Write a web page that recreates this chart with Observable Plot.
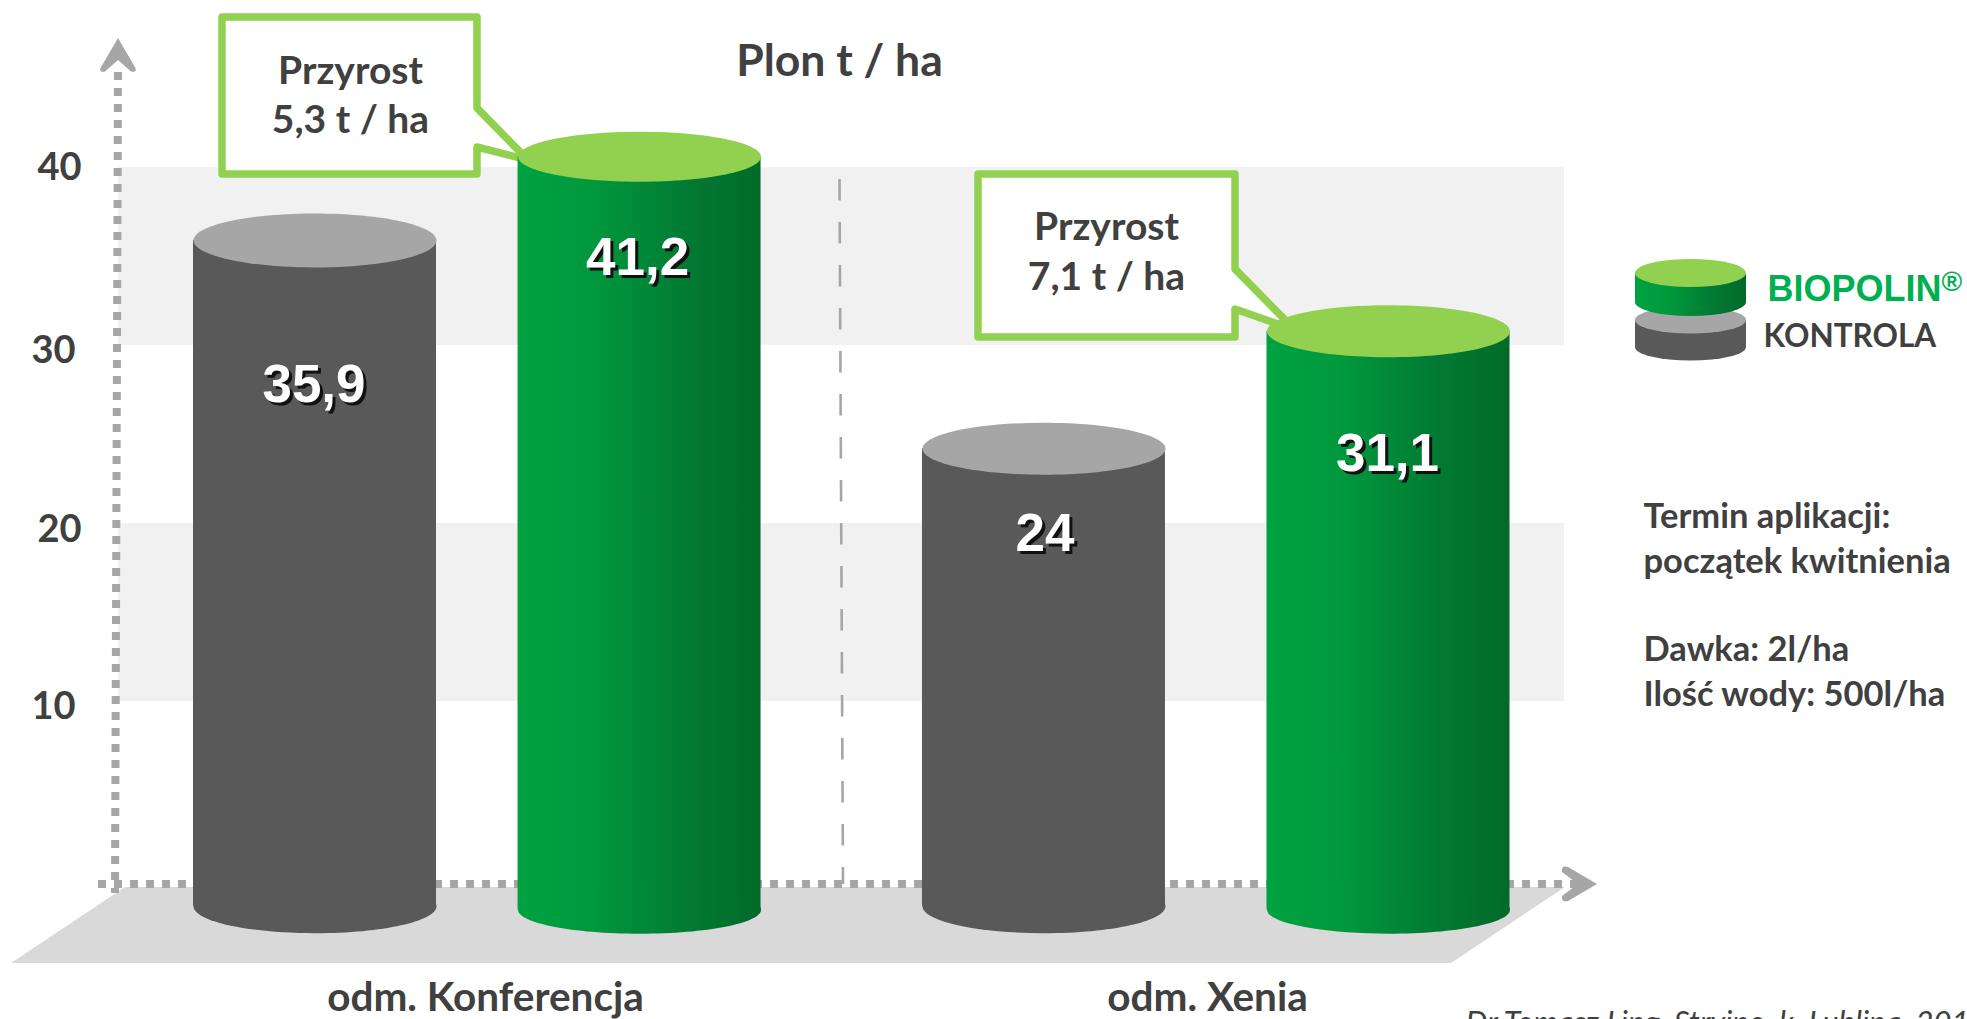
<!DOCTYPE html>
<html lang="pl">
<head>
<meta charset="utf-8">
<title>Plon t / ha</title>
<style>html,body{margin:0;padding:0;background:#fff}svg{display:block}</style>
<script src="https://cdn.jsdelivr.net/npm/d3@7"></script>
<script src="https://cdn.jsdelivr.net/npm/@observablehq/plot@0.6"></script>
</head>
<body>
<div id="chart"></div>
<script>
// ---- data ----
const groups = ["odm. Konferencja", "odm. Xenia"];
const seriesNames = ["KONTROLA", "BIOPOLIN"];
const barKeys = ["Konferencja KONTROLA", "Konferencja BIOPOLIN", "Xenia KONTROLA", "Xenia BIOPOLIN"];
const barLabels = ["35,9", "41,2", "24", "31,1"];
// height of each cylinder's top as read against the chart's own 10-40 grid
const barHeights = [35.9, 40.6, 24.2, 30.8];
const barSeries = [0, 1, 0, 1];
const yTicks = [10, 20, 30, 40];
const bands = [[10, 20], [30, 40]];
const calloutLines = [["Przyrost", "5,3 t / ha"], ["Przyrost", "7,1 t / ha"]];
const notes = ["Termin aplikacji:", "początek kwitnienia", "Dawka: 2l/ha", "Ilość wody: 500l/ha"];
const chartTitle = "Plon t / ha";
const source = "Dr Tomasz Ling, Stryjno, k. Lublina, 2016";

const W = 1967, H = 1019;
const DARK = "#404040", GREEN = "#92d14f", AXIS = "#a6a6a6";
const BODY = ["#595959", "url(#cyl)"];
const TOP = ["#a6a6a6", GREEN];
const sans = "Lato, 'Noto Sans', sans-serif";
const arial = "'Liberation Sans', Arial, sans-serif";

// ---- layout (px) ----
const centreShift = [0, -33.3, 13.3, 0];   // uneven spacing of the cylinders
const labelDrop = [145, 101, 85, 123];     // value label below cylinder top
const labelShift = [-1, -2, 1, -1];
const topRy = [27, 25, 26, 26], bottomRy = [27, 24, 27, 24];
const BASE = [-1.5, -1.7, -1.5, -1.7];     // cylinder base sits in front of the zero line
const step = (1388 - 314.5) / 3, bw = 243;
const padding = 1 - bw / step;
const r0 = 314.5 - bw / 2 - padding * step;
const r1 = r0 + (4 + padding) * step;

const byY = {type: "linear", domain: [-7.865, 49.382], range: [H, 0]};

function ellipseSymbol(rx, ry) {
  const k = 0.5523;
  return {draw(c) {
    c.moveTo(-rx, 0);
    c.bezierCurveTo(-rx, -k * ry, -k * rx, -ry, 0, -ry);
    c.bezierCurveTo(k * rx, -ry, rx, -k * ry, rx, 0);
    c.bezierCurveTo(rx, k * ry, k * rx, ry, 0, ry);
    c.bezierCurveTo(-k * rx, ry, -rx, k * ry, -rx, 0);
    c.closePath();
  }};
}

function label(text, x, y, o = {}) {
  return Plot.text([text], {
    text: d => d, frameAnchor: "top-left", dx: x, dy: y, lineAnchor: "middle",
    textAnchor: "middle", fontFamily: sans, fontWeight: 700, fontSize: 39, fill: DARK, ...o
  });
}

const NS = "http://www.w3.org/2000/svg";
function el(name, attrs) {
  const e = document.createElementNS(NS, name);
  for (const k in attrs) e.setAttribute(k, attrs[k]);
  return e;
}

// non-data furniture: floor, axis arrows, divider, callout frames, legend swatch
function floorMark() {
  const g = el("g", {});
  g.append(el("path", {d: "M125,887 L1565,887 L1451,963 L11,963 Z", fill: "#d9d9d9"}));
  return g;
}
function axesMark() {
  const g = el("g", {fill: "none", stroke: AXIS});
  g.append(el("path", {d: "M839.5,179 L843,884", "stroke-width": 2.6, "stroke-dasharray": "21.5 21.5"}));
  g.append(el("path", {d: "M118,72 L115,893", "stroke-width": 8, "stroke-dasharray": "8 8"}));
  g.append(el("path", {d: "M98,884 L1578,884", "stroke-width": 8, "stroke-dasharray": "8 8"}));
  g.append(el("path", {d: "M118,38 L135.5,68 Q137,73 131,71.5 L118,60 L105,71.5 Q99,73 100.5,68 Z", fill: AXIS, stroke: "none"}));
  g.append(el("path", {d: "M1597,884 L1568,901 Q1561,903 1562,896 L1578,884 L1562,872 Q1561,865 1568,867 Z", fill: AXIS, stroke: "none"}));
  return g;
}
function calloutMark() {
  const g = el("g", {fill: "#fff", stroke: GREEN, "stroke-width": 7.5, "stroke-linejoin": "round"});
  g.append(el("path", {d: "M222,17 H477 V108 L528,160 L477,147 V174 H222 Z"}));
  g.append(el("path", {d: "M978,174 H1235 V269 L1295,330 L1235,309 V337 H978 Z"}));
  return g;
}
function legendMark() {
  const g = el("g", {});
  const cyl = (x, w, t, b, ry, body, top) => {
    g.append(el("path", {d: `M${x},${t} V${b} A${w / 2},${ry} 0 0 0 ${x + w},${b} V${t} Z`, fill: body}));
    g.append(el("ellipse", {cx: x + w / 2, cy: t, rx: w / 2, ry, fill: top}));
  };
  cyl(1635, 111, 320, 347, 13.5, BODY[0], TOP[0]);
  cyl(1635, 111, 273, 302, 14, BODY[1], TOP[1]);
  return g;
}

const rows = barKeys.map((key, i) => ({key, i, height: barHeights[i], text: barLabels[i], s: barSeries[i]}));

const barMarks = rows.flatMap(r => {
  const dx = centreShift[r.i];
  return [
    Plot.barY([r], {x: "key", y1: () => BASE[r.i], y2: "height", fill: BODY[r.s], dx}),
    Plot.dot([r], {x: "key", y: () => BASE[r.i], r: 1, symbol: ellipseSymbol(bw / 2, bottomRy[r.i]), fill: BODY[r.s], stroke: "none", dx}),
    Plot.dot([r], {x: "key", y: "height", r: 1, symbol: ellipseSymbol(bw / 2, topRy[r.i]), fill: TOP[r.s], stroke: "none", dx}),
    Plot.text([r], {x: "key", y: "height", text: "text", dx: dx + labelShift[r.i], dy: labelDrop[r.i],
      fill: "#fff", fontFamily: arial, fontWeight: 700, fontSize: 53, lineAnchor: "middle",
      imageFilter: "drop-shadow(3px 3px 0 #111)"})
  ];
});

const tickShift = {40: [59, 0], 30: [53, 5], 20: [59, 6], 10: [53, 5]};

const chart = Plot.plot({
  width: W, height: H,
  margin: 0,
  style: {background: "#fff", overflow: "hidden"},
  x: {type: "band", domain: barKeys, range: [r0, r1], padding, align: 0.5, round: false, axis: null},
  y: {...byY, axis: null},
  marks: [
    Plot.rectY(bands, {y1: d => d[0], y2: d => d[1], fill: "#f1f1f1", insetLeft: 118, insetRight: W - 1564}),
    floorMark,
    axesMark,
    calloutMark,
    ...barMarks,
    ...yTicks.map(t => Plot.text([t], {y: d => d, text: d => `${d}`, frameAnchor: "left",
      dx: tickShift[t][0], dy: tickShift[t][1], textAnchor: "middle", lineAnchor: "middle",
      fontFamily: sans, fontWeight: 700, fontSize: 38, fill: DARK})),
    label(chartTitle, 839, 61, {fontSize: 44.5}),
    label(calloutLines[0][0], 350, 71),
    label(calloutLines[0][1], 350, 120),
    label(calloutLines[1][0], 1106, 227),
    label(calloutLines[1][1], 1106, 277),
    label(groups[0], 485, 998, {fontSize: 40.5}),
    label(groups[1], 1207, 998, {fontSize: 40.5}),
    legendMark,
    label(seriesNames[1], 1767, 289, {fontFamily: arial, fontSize: 36, fill: "#00b050", textAnchor: "start"}),
    label("®", 1941, 282, {fontFamily: arial, fontSize: 28, fill: "#00b050", textAnchor: "start"}),
    label(seriesNames[0], 1763, 336, {fontSize: 31.5, textAnchor: "start"}),
    label(notes[0], 1643, 516, {fontSize: 34.5, textAnchor: "start"}),
    label(notes[1], 1643, 561, {fontSize: 34.5, textAnchor: "start"}),
    label(notes[2], 1643, 649, {fontSize: 34.5, textAnchor: "start"}),
    label(notes[3], 1643, 694, {fontSize: 34.5, textAnchor: "start"}),
    label(source, 1465, 1023, {fontStyle: "italic", fontWeight: 400, fontSize: 31, textAnchor: "start"})
  ]
});

const defs = el("defs", {});
const grad = el("linearGradient", {id: "cyl", x1: 0, x2: 1, y1: 0, y2: 0});
[[0, "#00a241"], [0.3, "#00993d"], [0.7, "#027a33"], [1, "#026a2a"]].forEach(([o, c]) =>
  grad.append(el("stop", {offset: o, "stop-color": c})));
defs.append(grad);
chart.prepend(defs);
document.getElementById("chart").append(chart);
</script>
</body>
</html>
